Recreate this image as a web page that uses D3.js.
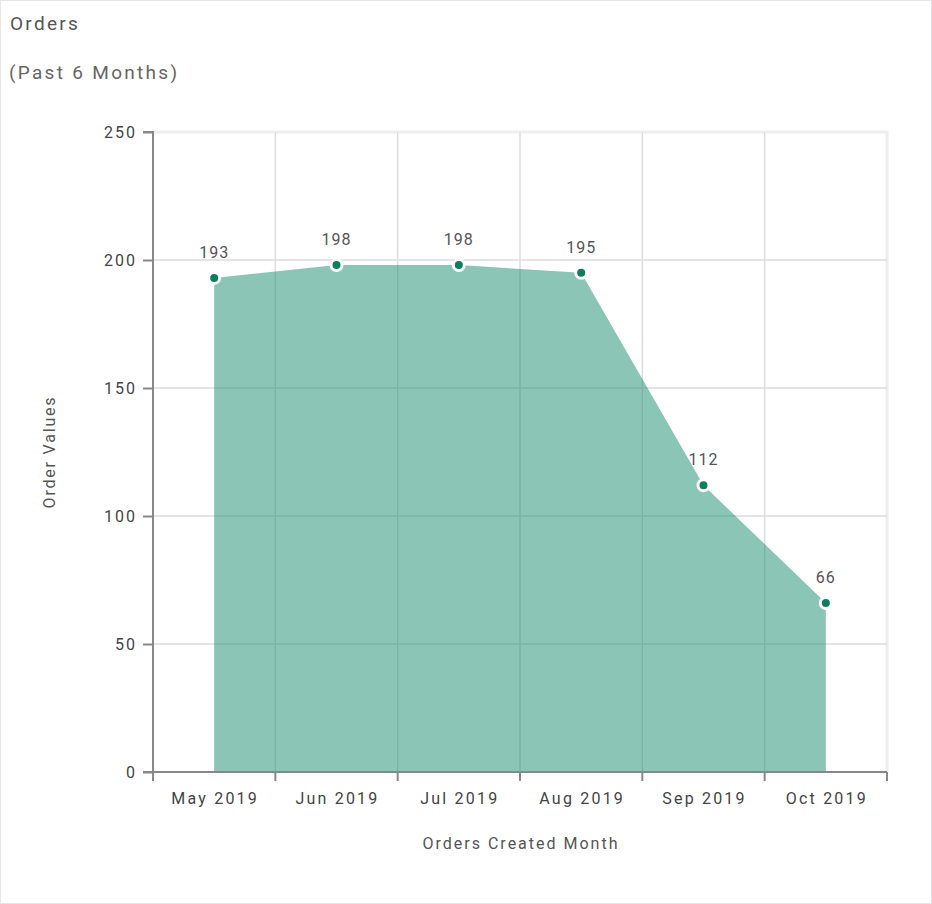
<!DOCTYPE html>
<html><head><meta charset="utf-8">
<script src="https://cdn.jsdelivr.net/npm/d3@7"></script>
<style>
html,body{margin:0;padding:0;background:#fff;}
svg{display:block;font-family:Roboto,"Open Sans",sans-serif;}
</style></head>
<body>
<script>
const months = ["May 2019","Jun 2019","Jul 2019","Aug 2019","Sep 2019","Oct 2019"];
const orders = [193,198,198,195,112,66];
const yTicks = [0,50,100,150,200,250];

const W = 932, H = 904;
const m = {left:153, right:887, top:132, bottom:772};

const svg = d3.select("body").append("svg").attr("width",W).attr("height",H);
svg.append("rect").attr("x",0.5).attr("y",0.5).attr("width",W-1).attr("height",H-1)
  .attr("fill","#fff").attr("stroke","#e6e6e9");

svg.append("text").attr("x",10).attr("y",30).attr("fill","#555").attr("font-size",19)
  .attr("letter-spacing",2.3).text("Orders");
svg.append("text").attr("x",9).attr("y",79).attr("fill","#666").attr("font-size",19)
  .attr("letter-spacing",2.3).text("(Past 6 Months)");

const x = d3.scaleBand().domain(months).range([m.left,m.right]).padding(0);
const y = d3.scaleLinear().domain([0,250]).range([m.bottom,m.top]);

// plot border (top/right light)
svg.append("path").attr("d",`M${m.left},${m.top}H${m.right}V${m.bottom}`)
  .attr("fill","none").attr("stroke","#eeeeee").attr("stroke-width",3);

// horizontal grid
svg.append("g").selectAll("line").data(yTicks.filter(d=>d>0&&d<250)).join("line")
  .attr("x1",m.left).attr("x2",m.right).attr("y1",d=>y(d)).attr("y2",d=>y(d))
  .attr("stroke","#dddddd").attr("stroke-width",1.5);
// vertical grid at band boundaries
const bounds = months.slice(1).map(d=>x(d));
svg.append("g").selectAll("line").data(bounds).join("line")
  .attr("x1",d=>d).attr("x2",d=>d).attr("y1",m.top).attr("y2",m.bottom)
  .attr("stroke","#dddddd").attr("stroke-width",1.5);

// area
const cx = d => x(d) + x.bandwidth()/2;
const area = d3.area().x((d,i)=>cx(months[i])).y0(y(0)).y1(d=>y(d));
svg.append("path").datum(orders).attr("d",area).attr("fill","rgba(24,140,108,0.5)");

// axes
const yAxis = d3.axisLeft(y).tickValues(yTicks).tickSize(10).tickPadding(6);
const gy = svg.append("g").attr("transform",`translate(${m.left},0)`).call(yAxis);
gy.select(".domain").attr("stroke","#888").attr("stroke-width",2).attr("d",`M-10,${m.top}H0V${m.bottom}`);
gy.selectAll(".tick line").attr("stroke","#888").attr("stroke-width",2);
gy.selectAll(".tick text").attr("font-size",16).attr("fill","#444").attr("letter-spacing",2)
  .attr("font-family","Roboto,sans-serif");

const xAxis = d3.axisBottom(x).tickSize(0).tickPadding(21);
const gx = svg.append("g").attr("transform",`translate(0,${m.bottom})`).call(xAxis);
gx.select(".domain").attr("stroke","#888").attr("stroke-width",2).attr("d",`M${m.left-10},0H${m.right}`);
gx.selectAll(".tick text").attr("font-size",16).attr("fill","#444").attr("letter-spacing",2.2)
  .attr("dx",1).attr("font-family","Roboto,sans-serif");
svg.append("g").selectAll("line").data([m.left].concat(bounds).concat([m.right])).join("line")
  .attr("x1",d=>d).attr("x2",d=>d).attr("y1",m.bottom).attr("y2",m.bottom+9)
  .attr("stroke","#888").attr("stroke-width",2);

// points
svg.append("g").selectAll("circle").data(orders).join("circle")
  .attr("cx",(d,i)=>cx(months[i])).attr("cy",d=>y(d)).attr("r",5.5)
  .attr("fill","#0d7f61").attr("stroke","#fff").attr("stroke-width",3);
svg.append("g").selectAll("text").data(orders).join("text")
  .attr("x",(d,i)=>cx(months[i])).attr("y",d=>y(d)-20).attr("text-anchor","middle")
  .attr("font-size",16).attr("letter-spacing",1).attr("fill","#555").text(d=>d);

// axis titles
svg.append("text").attr("x",(m.left+m.right)/2+1).attr("y",849).attr("text-anchor","middle")
  .attr("font-size",16).attr("letter-spacing",2).attr("fill","#555").text("Orders Created Month");
svg.append("text").attr("transform",`translate(55,452) rotate(-90)`).attr("text-anchor","middle")
  .attr("font-size",16).attr("letter-spacing",1.8).attr("fill","#555").text("Order Values");
</script>
</body></html>
